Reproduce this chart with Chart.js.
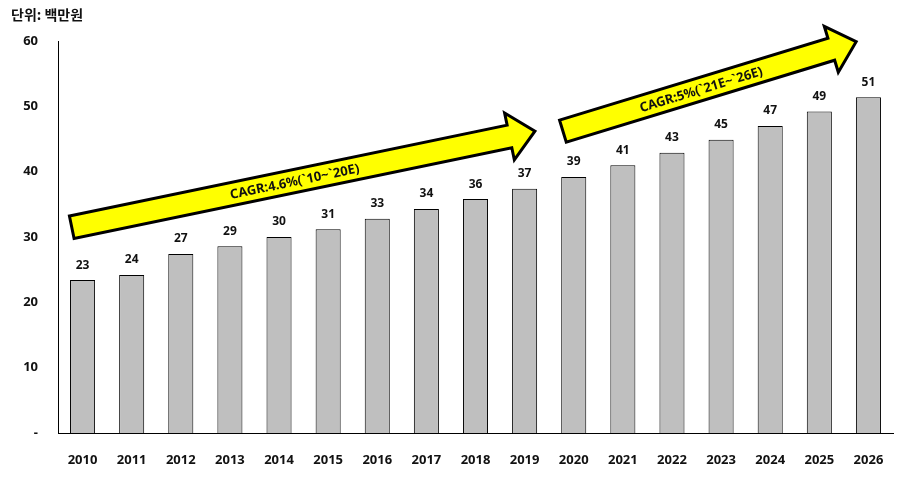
<!DOCTYPE html>
<html>
<head>
<meta charset="utf-8">
<script src="https://cdn.jsdelivr.net/npm/chart.js@4.4.0/dist/chart.umd.min.js"></script>
<style>
  html, body { margin: 0; padding: 0; background: #fff; }
  #wrap { position: relative; width: 909px; height: 486px; }
  #unit { position: absolute; left: 11px; top: 4px; font: bold 14px "Noto Sans CJK KR", sans-serif; color: #111; }
</style>
</head>
<body>
<div id="wrap">
  <div id="unit">단위: 백만원</div>
  <canvas id="chart" width="909" height="486"></canvas>
</div>
<script>
const years = ['2010','2011','2012','2013','2014','2015','2016','2017','2018','2019','2020','2021','2022','2023','2024','2025','2026'];
const values = [23.4, 24.2, 27.4, 28.6, 30.0, 31.2, 32.8, 34.3, 35.8, 37.4, 39.2, 41.0, 42.9, 44.9, 47.0, 49.2, 51.4];
const yTicks = [0, 10, 20, 30, 40, 50, 60];

// 화살표: 카테고리 인덱스 / 값 기준 좌표
const arrows = [
  { from: [-0.22, 31.5], to: [9.21, 46.2], text: 'CAGR:4.6%(`10~`20E)' },
  { from: [9.78, 46.2], to: [15.75, 59.9], text: 'CAGR:5%(`21E~`26E)' }
];

const FONT = '"Noto Sans", "Noto Sans CJK KR", sans-serif';

const overlay = {
  id: 'overlay',
  afterDatasetsDraw(chart) {
    const ctx = chart.ctx;
    const x = chart.scales.x, y = chart.scales.y;

    // 값 라벨
    ctx.save();
    ctx.fillStyle = '#111';
    ctx.font = 'bold 12px ' + FONT;
    ctx.textAlign = 'center';
    ctx.textBaseline = 'bottom';
    chart.getDatasetMeta(0).data.forEach((bar, i) => {
      ctx.fillText(Math.round(values[i]), bar.x, bar.y - 9);
    });
    ctx.restore();

    // 노란 화살표
    arrows.forEach(a => {
      const x0 = x.getPixelForValue(a.from[0]), y0 = y.getPixelForValue(a.from[1]);
      const x1 = x.getPixelForValue(a.to[0]), y1 = y.getPixelForValue(a.to[1]);
      const len = Math.hypot(x1 - x0, y1 - y0);
      const ang = Math.atan2(y1 - y0, x1 - x0);
      const sw = 11.5, hw = 24, hl = 26;
      ctx.save();
      ctx.translate(x0, y0);
      ctx.rotate(ang);
      ctx.beginPath();
      ctx.moveTo(0, -sw);
      ctx.lineTo(len - hl, -sw);
      ctx.lineTo(len - hl, -hw);
      ctx.lineTo(len, 0);
      ctx.lineTo(len - hl, hw);
      ctx.lineTo(len - hl, sw);
      ctx.lineTo(0, sw);
      ctx.closePath();
      ctx.fillStyle = '#ffff00';
      ctx.fill();
      ctx.lineWidth = 3;
      ctx.lineJoin = 'miter';
      ctx.strokeStyle = '#000';
      ctx.stroke();
      ctx.fillStyle = '#111';
      ctx.font = 'bold 13px ' + FONT;
      ctx.textAlign = 'center';
      ctx.textBaseline = 'middle';
      ctx.fillText(a.text, (len - hl) / 2 + 4, 1);
      ctx.restore();
    });
  }
};

new Chart(document.getElementById('chart'), {
  type: 'bar',
  data: {
    labels: years,
    datasets: [{
      data: values,
      backgroundColor: '#bfbfbf',
      borderColor: '#000',
      borderWidth: 1,
      barPercentage: 0.51,
      categoryPercentage: 1
    }]
  },
  options: {
    responsive: false,
    animation: false,
    layout: { padding: { top: 41, right: 16, left: 0, bottom: 0 } },
    plugins: { legend: { display: false }, tooltip: { enabled: false } },
    scales: {
      x: {
        afterFit: s => { s.height = 53; },
        grid: { display: false, drawTicks: false },
        border: { display: true, color: '#000', width: 1 },
        ticks: { color: '#111', font: { family: FONT, size: 13, weight: 'bold' }, padding: 19 }
      },
      y: {
        min: 0, max: 60,
        afterFit: s => { s.width = 58; },
        afterBuildTicks: s => { s.ticks = yTicks.map(v => ({ value: v })); },
        grid: { display: false, drawTicks: false },
        border: { display: true, color: '#000', width: 1 },
        ticks: {
          color: '#111',
          font: { family: FONT, size: 13, weight: 'bold' },
          padding: 20,
          callback: v => v === 0 ? '-' : v
        }
      }
    }
  },
  plugins: [overlay]
});
</script>
</body>
</html>
